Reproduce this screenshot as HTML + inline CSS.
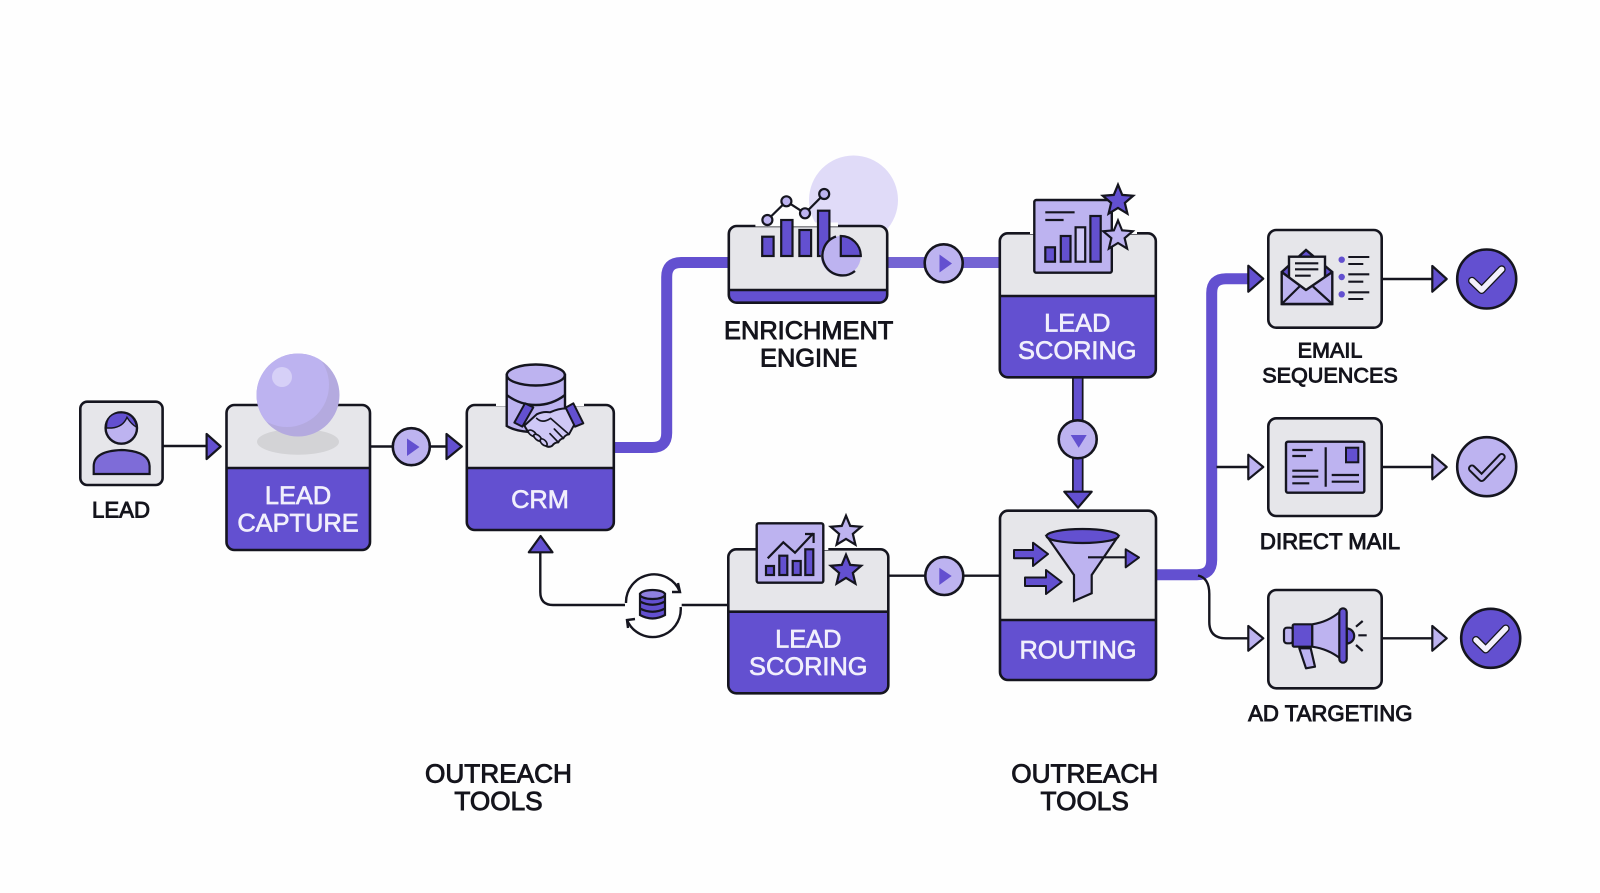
<!DOCTYPE html>
<html><head><meta charset="utf-8"><style>
html,body{margin:0;padding:0;background:#fefefe}
svg{display:block}
.d{font:25.4px "Liberation Sans",sans-serif;fill:#14141c;stroke:#14141c;stroke-width:.9;text-anchor:middle}
.s{font-size:22.2px}
.w{font:25.4px "Liberation Sans",sans-serif;fill:#f1effc;stroke:#f1effc;stroke-width:.65;text-anchor:middle}
</style></head><body>
<svg width="1600" height="893" viewBox="0 0 1600 893" xmlns="http://www.w3.org/2000/svg">
<defs><polygon id="st" points="0,-10 2.65,-3.64 9.51,-3.09 4.28,1.39 5.88,8.09 0,4.5 -5.88,8.09 -4.28,1.39 -9.51,-3.09 -2.65,-3.64"/>
<clipPath id="sph"><circle cx="298" cy="395" r="41.5"/></clipPath></defs>
<rect width="1600" height="893" fill="#fefefe"/>

<!-- pale circle -->
<circle cx="853.5" cy="200" r="44.5" fill="#e0dbf8"/>

<!-- thick connectors -->
<g fill="none" stroke="#6350d0" stroke-width="11">
<path d="M612 447.5H652Q666.7 447.5 666.7 433V277Q666.7 262.5 681 262.5H730"/>
<path d="M1154 574.7H1197Q1211.7 574.7 1211.7 560V293Q1211.7 278.7 1226 278.7H1252"/>
<path d="M886 262.5H1001" stroke="#7464d3"/>
</g>
<path d="M1077.8 376V495" fill="none" stroke="#15151f" stroke-width="11.5"/>
<path d="M1077.8 376V497" fill="none" stroke="#6350d0" stroke-width="8"/>
<!-- thin connectors -->
<g fill="none" stroke="#15151f" stroke-width="2.4">
<path d="M162 446H208M370 446.5H448M888 575.7H1001M1381 279H1433M1381 467H1433M1381 638.3H1433"/>
<path d="M1216.5 467H1249"/>
<path d="M1198 575.5Q1209.3 578 1209.3 594V622Q1209.3 638.3 1226 638.3H1249"/>
<path d="M540.3 550V592Q540.3 605 553 605H625M681.7 605H729"/>
<path d="M626 603A28 28 0 0 1 680 592"/>
<path d="M680.7 607A28 28 0 0 1 627 620"/>
<path d="M678 583L680 592L672 592M635 619L627 620L628 628"/>
</g>

<!-- arrowheads -->
<g fill="#6350d0" stroke="#15151f" stroke-width="2.2" stroke-linejoin="round">
<polygon points="206.6,434 220.7,446.5 206.6,459"/>
<polygon points="446.5,434 461.8,446.5 446.5,459"/>
<polygon points="528.8,552.3 540.6,536 552.5,552.3"/>
<polygon points="1064.3,491.7 1091.7,491.7 1078,507.7"/>
<polygon points="1248.3,265.7 1263.3,278.7 1248.3,291.7" />
<polygon points="1432.3,266 1446.7,279 1432.3,291.7"/>
<g fill="#bdb3f0">
<polygon points="1248.3,454.7 1263.3,467 1248.3,479.3"/>
<polygon points="1248.3,626 1263.3,638.3 1248.3,650.7"/>
<polygon points="1432.3,454.7 1446.7,467 1432.3,479.3"/>
<polygon points="1432.3,626 1446.7,638.3 1432.3,650.7"/>
</g>
</g>

<!-- flow circles -->
<g fill="#bdb3f0" stroke="#15151f" stroke-width="2.6">
<circle cx="411.3" cy="446.7" r="18.5"/>
<circle cx="943.7" cy="263.3" r="19"/>
<circle cx="944.3" cy="576" r="19"/>
<circle cx="1077.7" cy="439.3" r="19"/>
</g>
<g fill="#6350d0">
<polygon points="407,438.5 419.5,447 407,456"/>
<polygon points="939.5,254.5 952,263.5 939.5,272.5"/>
<polygon points="939.3,567.7 951.7,576 939.3,585"/>
<polygon points="1070.7,435 1086.7,435 1078.7,447.7"/>
</g>

<!-- LEAD box -->
<rect x="80.3" y="401.7" width="82.3" height="83.3" rx="7" fill="#e6e6ea" stroke="#15151f" stroke-width="2.6"/>
<path d="M93.7 474V466Q94 451 121.5 450Q149 451 149.6 466V474Z" fill="#7e6cd8" stroke="#15151f" stroke-width="2.2"/>
<circle cx="121.3" cy="428" r="15.7" fill="#bdb3f0" stroke="#15151f" stroke-width="2.4"/>
<path d="M106.5 428Q106 413 121 412.7Q134 413 136.7 427.3Q131 424 127 417.3Q123 427 111.7 428Z" fill="#6350d0" stroke="#15151f" stroke-width="1.4"/>
<text class="d s" x="121" y="517.7">LEAD</text>

<!-- LEAD CAPTURE -->
<rect x="226.5" y="405" width="143.5" height="145" rx="8" fill="#6350d0"/>
<path d="M226.5 468V413Q226.5 405 234.5 405H362Q370 405 370 413V468Z" fill="#e6e6ea"/>
<rect x="226.5" y="405" width="143.5" height="145" rx="8" fill="none" stroke="#15151f" stroke-width="2.6"/>
<path d="M226.5 468H370" stroke="#15151f" stroke-width="2.6"/>
<ellipse cx="298" cy="441.7" rx="41" ry="13" fill="#d3d3d6"/>
<circle cx="298" cy="395" r="41.5" fill="#b4aadf"/>
<circle cx="287" cy="385" r="42" fill="#bdb3f0" clip-path="url(#sph)"/>
<circle cx="282" cy="377" r="10" fill="#d6d0f7"/>
<text class="w" x="298" y="504">LEAD</text>
<text class="w" x="298" y="531.3">CAPTURE</text>

<!-- CRM -->
<rect x="466.8" y="405" width="147" height="125" rx="8" fill="#6350d0"/>
<path d="M466.8 468V413Q466.8 405 474.8 405H605.8Q613.8 405 613.8 413V468Z" fill="#e6e6ea"/>
<rect x="466.8" y="405" width="147" height="125" rx="8" fill="none" stroke="#15151f" stroke-width="2.6"/>
<path d="M466.8 468H613.8" stroke="#15151f" stroke-width="2.6"/>
<path d="M496 404H584" stroke="#fefefe" stroke-width="4"/>
<path d="M506.7 375V426Q515 431 530 432H565V375Z" fill="#bdb3f0" stroke="#15151f" stroke-width="2.4"/>
<ellipse cx="535.8" cy="375" rx="29" ry="10.5" fill="#bdb3f0" stroke="#15151f" stroke-width="2.4"/>
<path d="M506.7 395Q520 405 535.8 405Q552 405 565 395" fill="none" stroke="#15151f" stroke-width="2.4"/>
<g transform="translate(495 355) scale(.3333)" stroke="#15151f" stroke-width="6" stroke-linejoin="round" stroke-linecap="round">
<path d="M88 212L125 178Q145 168 165 172Q190 160 215 160L240 205L222 238Q210 240 205 250Q195 252 190 262Q178 262 172 272Q160 280 150 270L100 232Z" fill="#cfc8f6"/>
<path d="M125 190Q142 207 167 190L222 238M205 250L178 222M190 262L165 236" fill="none" stroke-width="5"/>
<g fill="#cfc8f6" stroke-width="5">
<ellipse cx="112" cy="235" rx="14" ry="7" transform="rotate(35 112 235)"/>
<ellipse cx="128" cy="248" rx="14" ry="7" transform="rotate(40 128 248)"/>
<ellipse cx="146" cy="262" rx="13" ry="7" transform="rotate(45 146 262)"/>
</g>
<polygon points="90,145 115,157 82,215 58,203" fill="#6350d0"/>
<polygon points="235,145 265,205 240,215 212,158" fill="#6350d0"/>
</g>
<text class="w" x="540" y="508">CRM</text>

<!-- ENRICHMENT -->
<rect x="728.8" y="226" width="158.4" height="76.7" rx="8" fill="#6350d0"/>
<path d="M728.8 290V234Q728.8 226 736.8 226H879.2Q887.2 226 887.2 234V290Z" fill="#e6e6ea"/>
<rect x="728.8" y="226" width="158.4" height="76.7" rx="8" fill="none" stroke="#15151f" stroke-width="2.6"/>
<path d="M728.8 290H887.2" stroke="#15151f" stroke-width="2.6"/>
<path d="M755.4 224.5H838" stroke="#fefefe" stroke-width="4"/>
<g fill="#6350d0" stroke="#15151f" stroke-width="2.2">
<rect x="762.2" y="236.7" width="11.4" height="19.3"/>
<rect x="781.2" y="220" width="11.3" height="36"/>
<rect x="799.4" y="230" width="11.7" height="26"/>
<rect x="818" y="210.7" width="11.4" height="45.3"/>
</g>
<path d="M767.4 220L786.4 201.3L805 213.3L824.2 194" fill="none" stroke="#15151f" stroke-width="2.2"/>
<g fill="#bdb3f0" stroke="#15151f" stroke-width="2.2">
<circle cx="767.4" cy="220" r="5"/><circle cx="786.4" cy="201.3" r="5"/><circle cx="805" cy="213.3" r="5"/><circle cx="824.2" cy="194" r="5"/>
</g>
<circle cx="840.8" cy="256" r="20" fill="#bdb3f0"/>
<path d="M855 271A20 20 0 1 1 836 236.5" fill="none" stroke="#15151f" stroke-width="2.4"/>
<path d="M840.8 256V236A20 20 0 0 1 860.8 256Z" fill="#6350d0" stroke="#15151f" stroke-width="2.2"/>
<text class="d" x="808.7" y="339">ENRICHMENT</text>
<text class="d" x="808.7" y="366.7">ENGINE</text>

<!-- LEAD SCORING top -->
<rect x="999.8" y="233.3" width="156" height="144" rx="8" fill="#6350d0"/>
<path d="M999.8 296V241.3Q999.8 233.3 1007.8 233.3H1147.8Q1155.8 233.3 1155.8 241.3V296Z" fill="#e6e6ea"/>
<rect x="999.8" y="233.3" width="156" height="144" rx="8" fill="none" stroke="#15151f" stroke-width="2.6"/>
<path d="M999.8 296H1155.8" stroke="#15151f" stroke-width="2.6"/>
<path d="M1030 232H1137" stroke="#fefefe" stroke-width="4"/>
<rect x="1034.3" y="200" width="77.5" height="72.7" rx="2" fill="#bdb3f0" stroke="#15151f" stroke-width="2.4"/>
<path d="M1045.3 212.3H1074.6M1045.3 220H1063.6" stroke="#15151f" stroke-width="2.2"/>
<g fill="#6350d0" stroke="#15151f" stroke-width="2.2">
<rect x="1045.3" y="247.3" width="9.7" height="14.4"/>
<rect x="1060.8" y="236" width="9.7" height="25.7"/>
<rect x="1075.6" y="227.3" width="9.6" height="34.4" fill="#cfc8f6"/>
<rect x="1090.4" y="216" width="10.3" height="45.7"/>
</g>
<use href="#st" transform="translate(1118 200.7) scale(1.6)" fill="#6350d0" stroke="#15151f" stroke-width="1.4"/>
<use href="#st" transform="translate(1118 236) scale(1.55)" fill="#bdb3f0" stroke="#15151f" stroke-width="1.4"/>
<text class="w" x="1077.3" y="331.7">LEAD</text>
<text class="w" x="1077.3" y="359">SCORING</text>

<!-- LEAD SCORING bottom -->
<rect x="728.3" y="549.3" width="160" height="144" rx="8" fill="#6350d0"/>
<path d="M728.3 611.7V557.3Q728.3 549.3 736.3 549.3H880.3Q888.3 549.3 888.3 557.3V611.7Z" fill="#e6e6ea"/>
<rect x="728.3" y="549.3" width="160" height="144" rx="8" fill="none" stroke="#15151f" stroke-width="2.6"/>
<path d="M728.3 611.7H888.3" stroke="#15151f" stroke-width="2.6"/>
<path d="M756 548H828.3" stroke="#fefefe" stroke-width="4"/>
<rect x="756.7" y="523.3" width="66.6" height="59.4" rx="2" fill="#bdb3f0" stroke="#15151f" stroke-width="2.4"/>
<path d="M767.7 558.3L783.3 542.3L795 552.7L813.3 533.3M805 534H813.6V543" fill="none" stroke="#15151f" stroke-width="2.2"/>
<g fill="#6350d0" stroke="#15151f" stroke-width="2.2">
<rect x="766" y="566" width="8" height="9"/>
<rect x="779.3" y="555.7" width="8" height="19.3"/>
<rect x="792.7" y="561" width="8" height="14"/>
<rect x="805.3" y="549.3" width="8" height="25.7"/>
</g>
<use href="#st" transform="translate(846 531.7) scale(1.6)" fill="#bdb3f0" stroke="#15151f" stroke-width="1.4"/>
<use href="#st" transform="translate(846 570.7) scale(1.6)" fill="#6350d0" stroke="#15151f" stroke-width="1.4"/>
<text class="w" x="808.3" y="647.7">LEAD</text>
<text class="w" x="808.3" y="675">SCORING</text>

<!-- ROUTING -->
<rect x="1000" y="510.7" width="156" height="169.3" rx="8" fill="#6350d0"/>
<path d="M1000 620V518.7Q1000 510.7 1008 510.7H1148Q1156 510.7 1156 518.7V620Z" fill="#e6e6ea"/>
<rect x="1000" y="510.7" width="156" height="169.3" rx="8" fill="none" stroke="#15151f" stroke-width="2.6"/>
<path d="M1000 620H1156" stroke="#15151f" stroke-width="2.6"/>
<path d="M1046.7 536L1074 575V601L1091.7 593.3V575L1118.3 536Z" fill="#bdb3f0" stroke="#15151f" stroke-width="2.2"/>
<ellipse cx="1082.5" cy="536" rx="36" ry="7" fill="#6350d0" stroke="#15151f" stroke-width="2.2"/>
<g fill="#6350d0" stroke="#15151f" stroke-width="2" stroke-linejoin="round">
<polygon points="1014,550 1033,550 1033,542.7 1048,554 1033,566 1033,558.3 1014,558.3"/>
<polygon points="1025,577.5 1046,577.5 1046,570 1061.7,582 1046,594 1046,586 1025,586"/>
<polygon points="1125.7,549.3 1139,557.5 1125.7,567.3"/>
</g>
<path d="M1088 557.3H1126" stroke="#15151f" stroke-width="2.2"/>
<text class="w" x="1078" y="658.3">ROUTING</text>

<!-- Email box -->
<rect x="1268.3" y="230" width="113.4" height="97.7" rx="8" fill="#e6e6ea" stroke="#15151f" stroke-width="2.6"/>
<path d="M1281.7 272L1306 250L1332.3 272V304H1281.7Z" fill="#6350d0" stroke="#15151f" stroke-width="2.4"/>
<rect x="1289" y="256.7" width="36" height="36" fill="#e6e6ea" stroke="#15151f" stroke-width="2.4"/>
<path d="M1295 263.3H1318.3M1295 269.3H1318.3M1295 275.7H1310.7" stroke="#15151f" stroke-width="2.2"/>
<path d="M1281.7 272L1306 290L1332.3 272V304H1281.7Z" fill="#bdb3f0" stroke="#15151f" stroke-width="2.4" stroke-linejoin="round"/>
<path d="M1281.7 304L1299.5 286.5M1332.3 304L1313 286.5" fill="none" stroke="#15151f" stroke-width="2.2"/>
<g fill="#6350d0"><circle cx="1341.7" cy="259.7" r="3.2"/><circle cx="1341.7" cy="277" r="3.2"/><circle cx="1341.7" cy="294.3" r="3.2"/></g>
<path d="M1348.3 257H1369.3M1348.3 264H1363.3M1348.3 274.3H1369.3M1348.3 281.7H1363.3M1348.3 292.3H1369.3M1348.3 299H1363.3" stroke="#15151f" stroke-width="2.1"/>
<text class="d" style="font-size:21.6px" x="1330" y="357.3">EMAIL</text>
<text class="d" style="font-size:21.6px" x="1330" y="382.7">SEQUENCES</text>

<!-- Direct mail box -->
<rect x="1268.3" y="418.3" width="113.4" height="97.7" rx="8" fill="#e6e6ea" stroke="#15151f" stroke-width="2.6"/>
<rect x="1286" y="441.7" width="78.3" height="51" rx="2" fill="#bdb3f0" stroke="#15151f" stroke-width="2.4"/>
<path d="M1292.3 450H1312.7M1292.3 456H1306M1292.3 470.7H1318.3M1292.3 476.7H1318.3M1292.3 483.3H1309.3M1325.7 447.3V486.7M1331.7 475H1359M1331.7 481.7H1359" stroke="#15151f" stroke-width="2.2"/>
<rect x="1346" y="447.7" width="12.3" height="14.6" fill="#6350d0" stroke="#15151f" stroke-width="2"/>
<text class="d s" x="1330" y="549">DIRECT MAIL</text>

<!-- Ad box -->
<rect x="1268.3" y="590" width="113.4" height="98.3" rx="8" fill="#e6e6ea" stroke="#15151f" stroke-width="2.6"/>
<path d="M1299.3 648.3H1310.7L1315 666.7L1306 668.3Z" fill="#bdb3f0" stroke="#15151f" stroke-width="2.2" stroke-linejoin="round"/>
<rect x="1284" y="627.7" width="9" height="15.6" rx="3" fill="#bdb3f0" stroke="#15151f" stroke-width="2.2"/>
<rect x="1292.7" y="624.3" width="19.6" height="22.4" rx="1.5" fill="#6350d0" stroke="#15151f" stroke-width="2.2"/>
<path d="M1312.3 624.3Q1328 622 1340 611.7V658.3Q1328 649 1312.3 646.7Z" fill="#bdb3f0" stroke="#15151f" stroke-width="2.2"/>
<path d="M1346.7 628.5A7.5 7.5 0 0 1 1346.7 643.5Z" fill="#6350d0" stroke="#15151f" stroke-width="2.2"/>
<rect x="1339.3" y="608.3" width="7.4" height="54.4" rx="3.7" fill="#6350d0" stroke="#15151f" stroke-width="2.2"/>
<path d="M1356 626.7L1362.7 621M1358.3 635.3H1366.7M1356 645L1362.7 651" stroke="#15151f" stroke-width="2.2"/>
<text class="d s" x="1330.3" y="721">AD TARGETING</text>

<!-- Checks -->
<g stroke="#15151f" stroke-width="2.6">
<circle cx="1486.7" cy="279" r="29.5" fill="#6350d0"/>
<circle cx="1486.7" cy="466.7" r="29.5" fill="#bdb3f0"/>
<circle cx="1490.7" cy="638.3" r="29.5" fill="#6350d0"/>
</g>
<g fill="none" stroke-linecap="round" stroke-linejoin="round">
<path d="M1472 280.7L1481.7 290L1501.7 269.3" stroke="#15151f" stroke-width="8"/>
<path d="M1472 280.7L1481.7 290L1501.7 269.3" stroke="#f3f1fc" stroke-width="5.4"/>
<path d="M1472 468.5L1481.7 478L1501.7 457" stroke="#15151f" stroke-width="8"/>
<path d="M1472 468.5L1481.7 478L1501.7 457" stroke="#bdb3f0" stroke-width="4"/>
<path d="M1476 640L1485.7 649.5L1505.7 628.5" stroke="#15151f" stroke-width="8"/>
<path d="M1476 640L1485.7 649.5L1505.7 628.5" stroke="#f3f1fc" stroke-width="5.4"/>
</g>

<!-- sync DB -->
<path d="M640 594V615Q652.5 622 665 615V594Z" fill="#6350d0" stroke="#15151f" stroke-width="2.2"/>
<path d="M640 601.5Q652.5 608 665 601.5M640 608.5Q652.5 615 665 608.5" fill="none" stroke="#15151f" stroke-width="2.2"/>
<ellipse cx="652.5" cy="594.5" rx="12.5" ry="4.5" fill="#8f80e0" stroke="#15151f" stroke-width="2.2"/>

<!-- bottom labels -->
<text class="d" style="font-size:26.2px" x="498.5" y="782.7">OUTREACH</text>
<text class="d" style="font-size:26.2px" x="498.5" y="810">TOOLS</text>
<text class="d" style="font-size:26.2px" x="1084.7" y="782.7">OUTREACH</text>
<text class="d" style="font-size:26.2px" x="1084.7" y="810">TOOLS</text>
</svg>
</body></html>
